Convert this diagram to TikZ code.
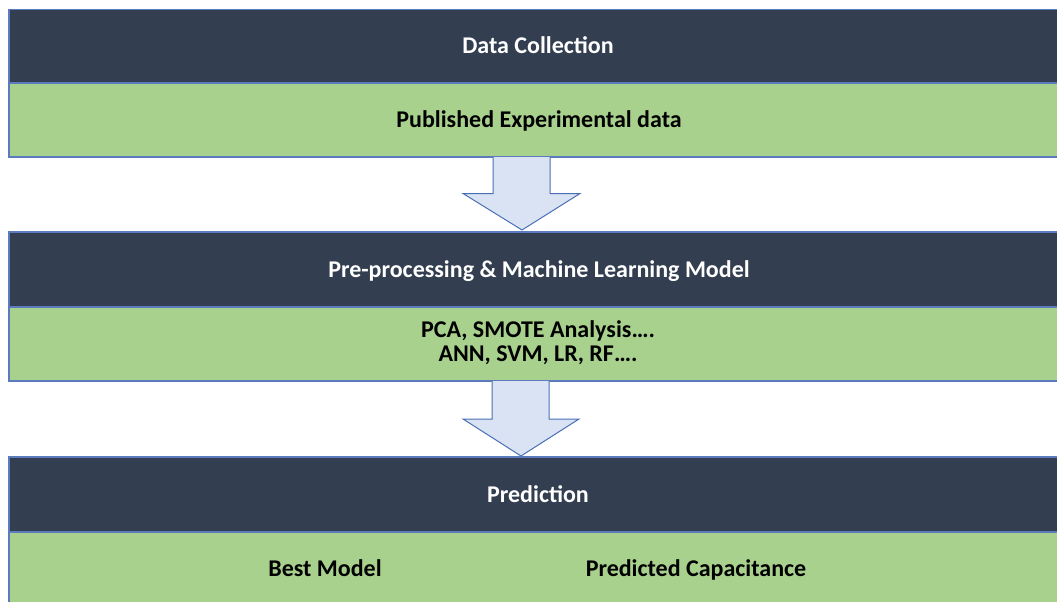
\documentclass[tikz,border=0pt]{standalone}
\usepackage{fontspec}
\setmainfont{Carlito}
\definecolor{darkband}{HTML}{333F50}
\definecolor{greenband}{HTML}{A9D18E}
\definecolor{edgeblue}{HTML}{5B7BBE}
\definecolor{arrowfill}{HTML}{DAE3F3}
\definecolor{arrowedge}{HTML}{4A6FB5}
\begin{document}
\begin{tikzpicture}[x=1pt,y=-1pt,
  band/.style={draw=edgeblue,line width=1.3pt,minimum width=1060pt,inner sep=0pt,outer sep=0pt,anchor=north west},
  titleband/.style={band,fill=darkband},
  bodyband/.style={band,fill=greenband},
  blockarrow/.style={draw=arrowedge,fill=arrowfill,line width=1pt,line join=miter},
  lbl/.style={font=\fontsize{24}{24.5}\selectfont\bfseries,inner sep=0pt,anchor=base}]
\useasboundingbox (0,0) rectangle (1057,602);
\clip (0,0) rectangle (1057,602);
% band 1
\node[titleband,minimum height=73.5pt] (t1) at (9,9.5) {};
\node[bodyband,minimum height=74pt] (b1) at (9,83) {};
\node[lbl,text=white] (t1l) at (538,54) {Data Collection};
\node[lbl] (b1l) at (539,127.5) {Published Experimental data};
% band 2
\node[titleband,minimum height=75pt] (t2) at (9,232) {};
\node[bodyband,minimum height=74pt] (b2) at (9,307) {};
\node[lbl,text=white] (t2l) at (539,277) {Pre-processing \& Machine Learning Model};
\node[lbl] (b2l1) at (538,337) {PCA, SMOTE Analysis….};
\node[lbl] (b2l2) at (538,361) {ANN, SVM, LR, RF….};
% band 3
\node[titleband,minimum height=75pt] (t3) at (9,457) {};
\node[bodyband,minimum height=80pt] (b3) at (9,532) {};
\node[lbl,text=white] (t3l) at (538,502) {Prediction};
\node[lbl] (b3l1) at (325,576) {Best Model};
\node[lbl] (b3l2) at (696,576) {Predicted Capacitance};
% arrows
\coordinate (a1tip) at (522,230);
\draw[blockarrow] (493,157) -- (493,193.5) -- (463,193.5) -- (a1tip) -- (580,193.5) -- (550,193.5) -- (550,157);
\coordinate (a2tip) at (521,456);
\draw[blockarrow] (492,381) -- (492,419) -- (463,419) -- (a2tip) -- (579,419) -- (549,419) -- (549,381);
\end{tikzpicture}
\end{document}
